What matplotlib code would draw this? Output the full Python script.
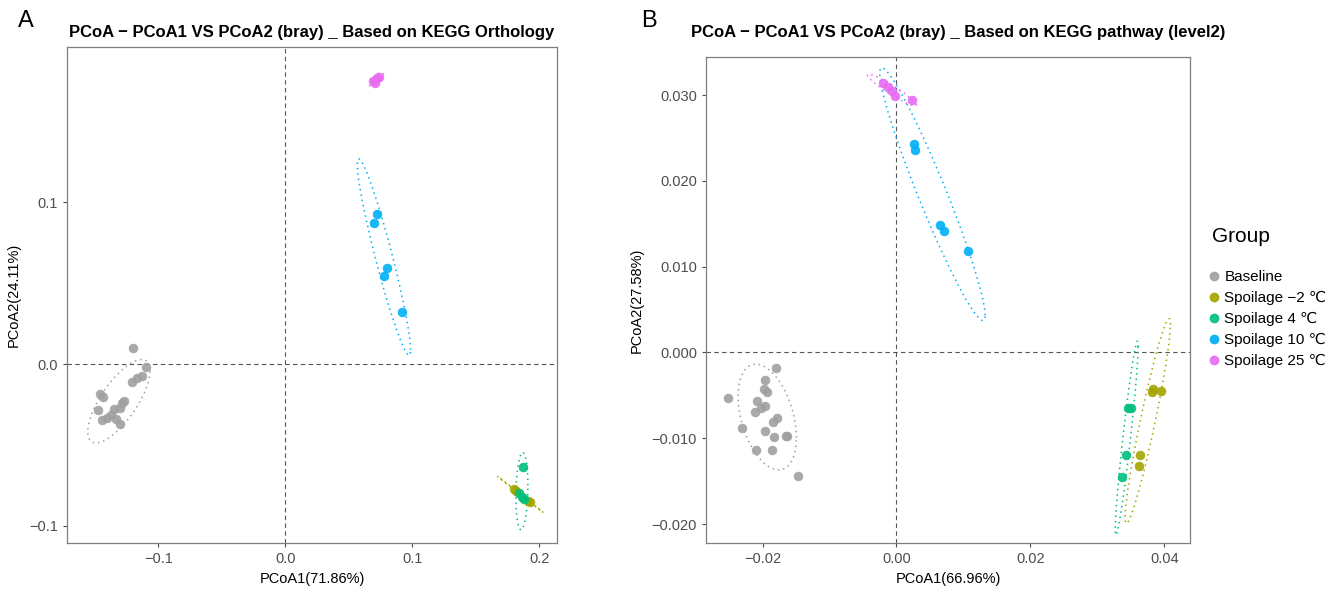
import numpy as np
import matplotlib
matplotlib.use("Agg")
import matplotlib.pyplot as plt
from matplotlib.lines import Line2D

plt.rcParams["font.family"] = ["Liberation Sans", "DejaVu Sans"]

groups = ["Baseline", "Spoilage \u22122 \u2103", "Spoilage 4 \u2103",
          "Spoilage 10 \u2103", "Spoilage 25 \u2103"]
colors = ["#A0A0A0", "#A3A500", "#00BF7D", "#00B0F6", "#E76BF3"]

# panel A: KEGG Orthology
ko_x = {
    "Baseline": [-0.1200, -0.1095, -0.1126, -0.1166, -0.1205, -0.1460, -0.1439, -0.1270, -0.1289,
                 -0.1300, -0.1350, -0.1476, -0.1370, -0.1407, -0.1447, -0.1334, -0.1300],
    "Spoilage \u22122 \u2103": [0.1800, 0.1815, 0.1926, 0.1913],
    "Spoilage 4 \u2103": [0.1873, 0.1842, 0.1861, 0.1881],
    "Spoilage 10 \u2103": [0.0721, 0.0695, 0.0797, 0.0781, 0.0918],
    "Spoilage 25 \u2103": [0.0689, 0.0721, 0.0736, 0.0710],
}
ko_y = {
    "Baseline": [0.0101, -0.0017, -0.0076, -0.0086, -0.0111, -0.0185, -0.0202, -0.0227, -0.0239,
                 -0.0272, -0.0276, -0.0284, -0.0317, -0.0331, -0.0346, -0.0341, -0.0370],
    "Spoilage \u22122 \u2103": [-0.0773, -0.0782, -0.0850, -0.0844],
    "Spoilage 4 \u2103": [-0.0638, -0.0798, -0.0823, -0.0835],
    "Spoilage 10 \u2103": [0.0924, 0.0872, 0.0591, 0.0543, 0.0323],
    "Spoilage 25 \u2103": [0.1749, 0.1764, 0.1770, 0.1737],
}

# panel B: KEGG pathway level2
pw_x = {
    "Baseline": [-0.01803, -0.01963, -0.01978, -0.01937, -0.02515, -0.02078, -0.01958, -0.02027,
                 -0.02108, -0.01788, -0.01848, -0.02306, -0.01958, -0.01824, -0.01630, -0.01649,
                 -0.02093, -0.01854, -0.01474],
    "Spoilage \u22122 \u2103": [0.03813, 0.03837, 0.03948, 0.03636, 0.03626],
    "Spoilage 4 \u2103": [0.03464, 0.03504, 0.03427, 0.03363],
    "Spoilage 10 \u2103": [0.00259, 0.00282, 0.00651, 0.00706, 0.01074],
    "Spoilage 25 \u2103": [-0.00205, -0.00126, -0.00061, -0.00016, 0.00233],
}
pw_y = {
    "Baseline": [-0.00178, -0.00318, -0.00423, -0.00465, -0.00531, -0.00570, -0.00625, -0.00645,
                 -0.00695, -0.00768, -0.00808, -0.00881, -0.00916, -0.00990, -0.00971, -0.00971,
                 -0.01134, -0.01141, -0.01441],
    "Spoilage \u22122 \u2103": [-0.00458, -0.00430, -0.00446, -0.01196, -0.01324],
    "Spoilage 4 \u2103": [-0.00652, -0.00652, -0.01196, -0.01449],
    "Spoilage 10 \u2103": [0.02427, 0.02357, 0.01486, 0.01416, 0.01185],
    "Spoilage 25 \u2103": [0.0314, 0.0309, 0.0305, 0.0299, 0.0294],
}


def cov_trob(xy, nu=5, maxit=25, tol=0.01):
    # port of MASS::cov.trob (what stat_ellipse uses by default)
    n, p = xy.shape
    loc = xy.mean(axis=0)
    w = np.ones(n)
    for _ in range(maxit):
        w0 = w
        X = xy - loc
        _, d, vt = np.linalg.svd(np.sqrt(w / w.sum())[:, None] * X, full_matrices=False)
        wX = X @ vt.T @ np.diag(1 / d)
        Q = (wX ** 2).sum(axis=1)
        w = (nu + p) / (nu + Q)
        loc = (w[:, None] * xy).sum(axis=0) / w.sum()
        if np.all(np.abs(w - w0) < tol):
            break
    X = xy - loc
    cov = (np.sqrt(w)[:, None] * X).T @ (np.sqrt(w)[:, None] * X) / n
    return loc, cov


def ellipse(x, y, level=0.9, npts=120):
    xy = np.column_stack([x, y])
    n = len(xy)
    d2 = n - 1
    # qf(level, 2, d2) has a closed form
    f = d2 / 2.0 * ((1 - level) ** (-2.0 / d2) - 1)
    r = np.sqrt(2 * f)
    loc, cov = cov_trob(xy)
    ch = np.linalg.cholesky(cov).T
    t = np.linspace(0, 2 * np.pi, npts)
    circ = np.column_stack([np.cos(t), np.sin(t)])
    pts = loc + r * (circ @ ch)
    return pts[:, 0], pts[:, 1]


def draw_panel(ax, xs, ys, xlab, ylab, xlim, ylim, xticks, yticks, xfmt, yfmt):
    ax.axvline(0, color="#555555", ls=(0, (4, 3)), lw=0.8, zorder=1)
    ax.axhline(0, color="#555555", ls=(0, (4, 3)), lw=0.8, zorder=1)
    for g, c in zip(groups, colors):
        ex, ey = ellipse(xs[g], ys[g])
        ax.plot(ex, ey, color=c, ls=(0, (1, 2.5)), lw=1.1, zorder=2)
        ax.scatter(xs[g], ys[g], s=40, color=c, edgecolors=c, linewidths=0.5,
                   alpha=0.9, zorder=3)
    ax.set_xlim(*xlim)
    ax.set_ylim(*ylim)
    ax.set_xticks(xticks)
    ax.set_yticks(yticks)
    ax.set_xticklabels([xfmt(v) for v in xticks])
    ax.set_yticklabels([yfmt(v) for v in yticks])
    ax.tick_params(colors="#4D4D4D", labelsize=10.5, length=3, width=0.8)
    for s in ax.spines.values():
        s.set_color("#7F7F7F")
        s.set_linewidth(0.9)
    ax.set_xlabel(xlab, fontsize=10.5, labelpad=4)
    ax.set_ylabel(ylab, fontsize=10.5, labelpad=6)


def fmt(digits):
    return lambda v: ("%.*f" % (digits, v)).replace("-", "\u2212")


fig = plt.figure(figsize=(13.38, 5.89), dpi=100)
ax1 = fig.add_axes([67 / 1338, 46 / 589, 490 / 1338, 496 / 589])
ax2 = fig.add_axes([706 / 1338, 46 / 589, 484 / 1338, 486 / 589])

draw_panel(ax1, ko_x, ko_y, "PCoA1(71.86%)", "PCoA2(24.11%)",
           (-0.172, 0.214), (-0.1105, 0.1957),
           [-0.1, 0.0, 0.1, 0.2], [-0.1, 0.0, 0.1], fmt(1), fmt(1))
draw_panel(ax2, pw_x, pw_y, "PCoA1(66.96%)", "PCoA2(27.58%)",
           (-0.02844, 0.04385), (-0.02221, 0.03443),
           [-0.02, 0.0, 0.02, 0.04], [-0.02, -0.01, 0.0, 0.01, 0.02, 0.03], fmt(2), fmt(3))

fig.text(312 / 1338, 1 - 33 / 589,
         "PCoA \u2212 PCoA1 VS PCoA2 (bray) _ Based on KEGG Orthology",
         fontsize=12, fontweight="bold", ha="center", va="center")
fig.text(958 / 1338, 1 - 33 / 589,
         "PCoA \u2212 PCoA1 VS PCoA2 (bray) _ Based on KEGG pathway (level2)",
         fontsize=12, fontweight="bold", ha="center", va="center")

fig.text(18 / 1338, 1 - 21 / 589, "A", fontsize=17, va="center")
fig.text(641 / 1338, 1 - 21 / 589, "B", fontsize=17, va="center")

fig.text(1212 / 1338, 1 - 237 / 589, "Group", fontsize=15, va="center")
handles = [Line2D([], [], marker="o", ls="", color=c, markersize=6, alpha=0.9) for c in colors]
leg = fig.legend(handles, groups, loc="upper left",
                 bbox_to_anchor=(1203 / 1338, 1 - 270 / 589), frameon=False,
                 fontsize=11, handletextpad=0.0, borderpad=0,
                 labelspacing=0.45, borderaxespad=0, handlelength=1.4)

fig.savefig("out.png", dpi=100)
